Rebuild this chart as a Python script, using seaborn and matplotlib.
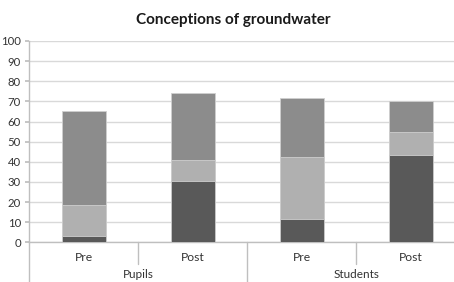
import matplotlib
matplotlib.use("Agg")
import matplotlib.pyplot as plt
import matplotlib.transforms as mtransforms
import seaborn as sns
import pandas as pd
import numpy as np

# ---- data ----
groups = ["Pupils", "Pupils", "Students", "Students"]
phases = ["Pre", "Post", "Pre", "Post"]
seg_dark = [3.3, 30.3, 11.4, 43.6]
seg_light = [15.2, 10.8, 31.0, 11.3]
seg_mid = [46.7, 33.2, 29.5, 15.5]

keys = [f"{g} {p}" for g, p in zip(groups, phases)]
df = pd.DataFrame({"key": keys, "dark": seg_dark, "light": seg_light, "mid": seg_mid})
df["c1"] = df["dark"]
df["c2"] = df["dark"] + df["light"]
df["c3"] = df["c2"] + df["mid"]

sns.set_theme(style="white")
plt.rcParams["font.family"] = ["Lato", "DejaVu Sans"]

W, H = 454, 282
fig = plt.figure(figsize=(W / 100, H / 100), dpi=100)
left_px, right_px, top_px, bot_px = 29.3, 465.3, 41.0, 242.3
ax = fig.add_axes([left_px / W, 1 - bot_px / H, (right_px - left_px) / W, (bot_px - top_px) / H])

edge = "#cfcfcf"
for col, color in [("c3", "#8c8c8c"), ("c2", "#b0b0b0"), ("c1", "#595959")]:
    sns.barplot(data=df, x="key", y=col, order=keys, color=color, width=0.4,
                edgecolor=edge, linewidth=0.6, saturation=1, ax=ax, zorder=3)

ax.set_ylim(0, 100)
ax.set_xlim(-0.5, 3.5)
ax.set_yticks(np.arange(0, 101, 10))
ax.yaxis.grid(True, color="#d9d9d9", linewidth=1.0, zorder=0)
ax.set_axisbelow(True)
ax.set_xlabel("")
ax.set_ylabel("")
for s in ["top", "right"]:
    ax.spines[s].set_visible(False)
ax.spines["left"].set_color("#bfbfbf")
ax.spines["bottom"].set_color("#bfbfbf")
ax.spines["left"].set_linewidth(1.0)
ax.spines["bottom"].set_linewidth(1.0)
ax.tick_params(axis="y", length=3, color="#bfbfbf", labelsize=8.2, labelcolor="#333333", pad=3, left=True)
ax.tick_params(axis="x", length=0, labelsize=8.7, labelcolor="#333333", pad=7)
ax.set_xticks(range(len(keys)))
ax.set_xticklabels(phases)

# category separators below axis
trans = mtransforms.blended_transform_factory(ax.transData, ax.transAxes)
axis_h_px = bot_px - top_px
for xpos, long in [(-0.5, True), (0.5, False), (1.5, True), (2.5, False), (3.5, True)]:
    depth = (45 if long else 22) / axis_h_px
    ax.plot([xpos, xpos], [0, -depth], transform=trans, color="#bfbfbf",
            linewidth=1.0, clip_on=False)

# group labels
group_names = ["Pupils", "Students"]
for i, g in enumerate(group_names):
    ax.text(0.5 + 2 * i, -(275 - bot_px) / axis_h_px, g, transform=trans,
            ha="center", va="center", fontsize=8.5, color="#333333")

fig.text(233 / W, 1 - 20 / H, "Conceptions of groundwater", ha="center", va="center",
         fontsize=11, fontweight="bold", color="#1a1a1a")

fig.savefig("out.png", dpi=100)
